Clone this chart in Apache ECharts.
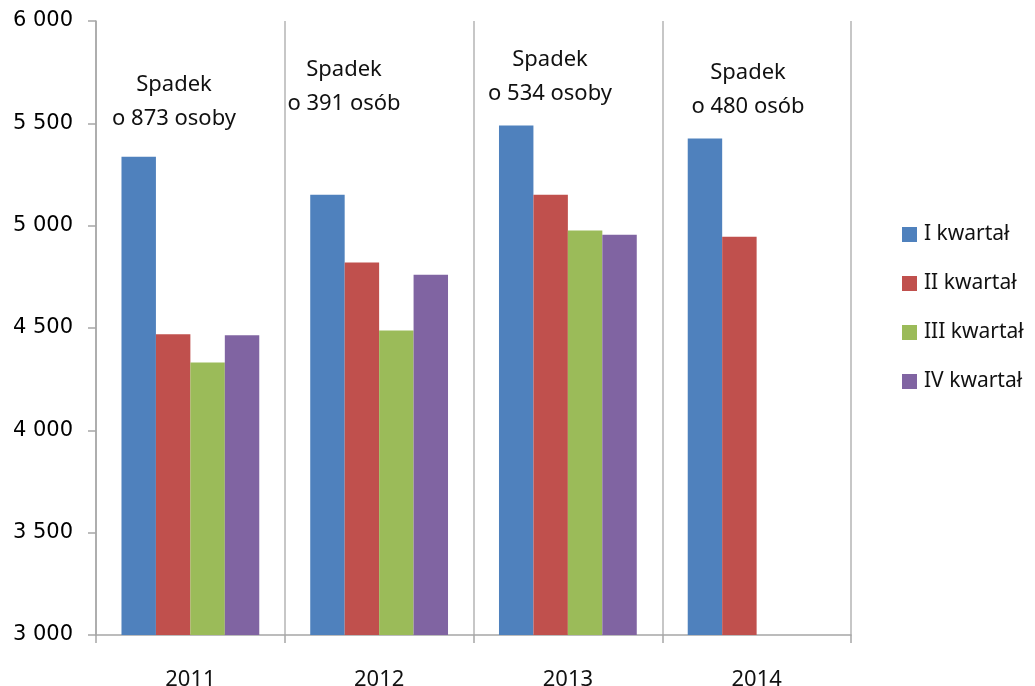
<!DOCTYPE html>
<html>
<head>
<meta charset="utf-8">
<script src="https://cdn.jsdelivr.net/npm/echarts@6/dist/echarts.min.js"></script>
<style>
	html, body { margin: 0; padding: 0; background: #fff; }
	#chart { width: 1035px; height: 686px; }
</style>
</head>
<body>
<div id="chart"></div>
<script>
/**
 * dane
 * **/
var years = ['2011', '2012', '2013', '2014'];
var seriesNames = ['I kwartał', 'II kwartał', 'III kwartał', 'IV kwartał'];
var q1 = [5337, 5151, 5490, 5426];
var q2 = [4470, 4820, 5151, 4946];
var q3 = [4332, 4488, 4976, null];
var q4 = [4464, 4760, 4956, null];
var colors = ['#4f81bd', '#c0504d', '#9bbb59', '#8064a2'];
var notes = [
	['Spadek', 'o 873 osoby'],
	['Spadek', 'o 391 osób'],
	['Spadek', 'o 534 osoby'],
	['Spadek', 'o 480 osób']
];
// pozycje podpisów (środek, góra bloku) w px
var notePos = [[174, 68], [344, 53], [550, 43], [748, 56]];

var textFont = '"Noto Sans", sans-serif';

var myChart = echarts.init(document.getElementById('chart'));

var graphics = [];
for (var i = 0; i < notes.length; i++) {
	graphics.push({
		type: 'text',
		x: notePos[i][0],
		y: notePos[i][1],
		style: {
			text: notes[i].join('\n'),
			align: 'center',
			verticalAlign: 'top',
			lineHeight: 34,
			fill: '#111',
			font: '22px ' + textFont
		}
	});
}

function bar(name, data, color) {
	return {
		name: name,
		type: 'bar',
		data: data,
		barGap: '0%',
		barCategoryGap: '27%',
		itemStyle: { color: color }
	};
}

var option = {
	animation: false,
	color: colors,
	grid: {
		left: 96,
		right: 184,
		top: 21,
		bottom: 51,
		containLabel: false,
		outerBoundsMode: 'none'
	},
	legend: {
		orient: 'vertical',
		left: 897,
		top: 219,
		itemWidth: 15,
		itemHeight: 15,
		itemGap: 28,
		icon: 'rect',
		textStyle: {
			fontSize: 21,
			color: '#111',
			fontFamily: textFont,
			padding: [0, 0, 0, 2]
		},
		data: seriesNames
	},
	xAxis: {
		type: 'category',
		data: years,
		axisLine: { lineStyle: { color: '#a6a6a6', width: 1.5 } },
		axisTick: { show: true, length: 8, lineStyle: { color: '#a6a6a6', width: 1.5 } },
		splitLine: { show: true, lineStyle: { color: '#b4b4b4', width: 1.5 } },
		axisLabel: {
			margin: 34,
			fontSize: 22,
			color: '#111',
			fontFamily: textFont
		}
	},
	yAxis: {
		type: 'value',
		min: 3000,
		max: 6000,
		interval: 500,
		splitLine: { show: false },
		axisLine: { show: true, lineStyle: { color: '#a6a6a6', width: 1.5 } },
		axisTick: { show: true, length: 8, lineStyle: { color: '#a6a6a6', width: 1.5 } },
		axisLabel: {
			margin: 23,
			fontSize: 21,
			color: '#000',
			fontFamily: '"DejaVu Sans", sans-serif',
			formatter: function(v) {
				return String(v).replace(/\B(?=(\d{3})+(?!\d))/g, ' ');
			}
		}
	},
	graphic: graphics,
	series: [
		bar(seriesNames[0], q1, colors[0]),
		bar(seriesNames[1], q2, colors[1]),
		bar(seriesNames[2], q3, colors[2]),
		bar(seriesNames[3], q4, colors[3])
	]
};
myChart.setOption(option);
</script>
</body>
</html>
